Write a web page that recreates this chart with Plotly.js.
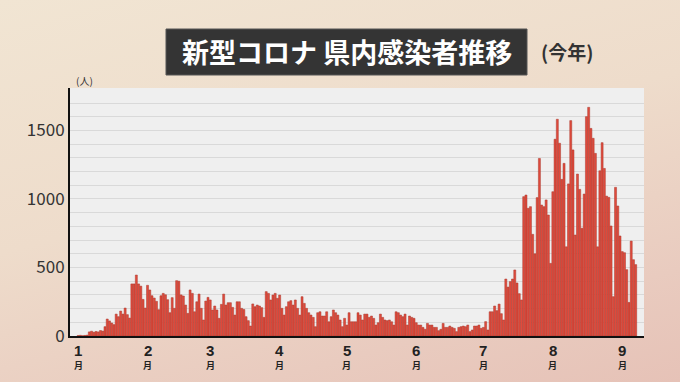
<!DOCTYPE html>
<html><head><meta charset="utf-8">
<script src="https://cdn.plot.ly/plotly-3.0.1.min.js"></script>
<style>
html,body{margin:0;padding:0;width:680px;height:382px;overflow:hidden;}
body{background:linear-gradient(165deg,#f1e5d3 0%,#eedccb 45%,#e9cbbf 80%,#e6c2b7 100%);}
#chart{width:680px;height:382px;}
</style></head>
<body><div id="chart"></div>
<script>
// daily new cases (人), 2021, by month
const jan=[3,5,2,4,6,30,35,28,33,30,40,36,68,124,110,95,83,160,141,182,160,204,156,131,380,380,445,380,364,267,204];
const feb=[370,336,294,277,253,192,294,311,301,265,170,280,202,404,400,300,292,226,165,336,311,177,250,306,202,117,255,282];
const mar=[263,190,219,190,129,231,306,226,243,243,209,153,250,250,202,194,141,112,73,234,214,226,219,207,136,324,311,263,299,311,275];
const apr=[299,202,153,214,250,258,226,263,202,153,287,238,202,170,153,136,68,170,177,146,146,177,104,141,190,170,153,117,68,129];
const may=[80,170,104,104,104,170,153,117,160,160,136,146,129,80,97,160,136,117,112,117,104,80,177,170,153,141,160,80,146,136,129];
const jun=[97,80,80,63,49,92,80,80,63,63,39,49,92,63,63,73,63,56,32,63,68,73,68,80,32,44,73,73,80,56];
const jul=[63,105,44,177,177,219,185,233,163,117,416,357,397,416,482,387,309,263,1017,1029,932,944,742,600,1010,1296,956,944,993,883,530];
const aug=[1053,1436,1582,1407,1143,1260,651,1110,1572,1358,737,1182,1070,786,1036,1601,1669,1515,1443,1333,651,1206,1411,1223,1021,1012,803,287,1085,949,730];
const sep=[616,608,484,245,693,557,521];
const monthTicks=['2021-01-01','2021-02-01','2021-03-01','2021-04-01','2021-05-01','2021-06-01','2021-07-01','2021-08-01','2021-09-01'];
const monthNums=['1','2','3','4','5','6','7','8','9'];
const yGrid=[0,100,200,300,400,500,600,700,800,900,1000,1100,1200,1300,1400,1500,1600,1700];
const yLabeled=[0,500,1000,1500];

const values=[].concat(jan,feb,mar,apr,may,jun,jul,aug,sep);
const start=new Date(Date.UTC(2021,0,1));
const dates=values.map((v,i)=>{const d=new Date(start.getTime()+i*86400000);return d.toISOString().slice(0,10);});

const FONT='"Noto Sans CJK JP","Noto Sans",sans-serif';
// plot area in pixels: x 70..644, y 88..336
const L=70,R=644,T=88,B=336;
const px=p=>(p-L)/(R-L), py=p=>(B-p)/(B-T);

const trace={type:'bar',x:dates,y:values,
  marker:{color:'#e14a3c',line:{color:'#a8382c',width:0.5}},hoverinfo:'x+y'};

const monthAnn=[];
monthTicks.forEach((t,i)=>{
  monthAnn.push({xref:'x',yref:'paper',x:t,y:py(350),text:'<b>'+monthNums[i]+'</b>',showarrow:false,
    font:{family:'"Liberation Sans",Arial,sans-serif',size:15,color:'#222'},
    xanchor:'center',yanchor:'middle',borderpad:0});
  monthAnn.push({xref:'x',yref:'paper',x:t,y:py(365.5),text:'<b>月</b>',showarrow:false,
    font:{family:FONT,size:9,color:'#222'},xanchor:'center',yanchor:'middle',borderpad:0});
});

const layout={
  width:680,height:382,
  paper_bgcolor:'rgba(0,0,0,0)',plot_bgcolor:'#efefef',
  margin:{l:L,r:680-R,t:T,b:382-B,pad:0},
  bargap:0.1,showlegend:false,
  font:{family:FONT,color:'#333'},
  xaxis:{type:'date',range:['2020-12-28 09:00','2021-09-10 17:00'],
    showticklabels:false,ticks:'',showgrid:false,
    showline:true,linecolor:'#111',linewidth:2,zeroline:false,fixedrange:true},
  yaxis:{range:[0,1810],tickvals:yGrid,
    ticktext:yGrid.map(v=>yLabeled.includes(v)?String(v):''),
    tickfont:{family:FONT,size:17,color:'#333'},ticks:'',
    showgrid:true,gridcolor:'#d9d9d9',gridwidth:1,
    showline:true,linecolor:'#111',linewidth:2,zeroline:false,fixedrange:true},
  shapes:[{type:'rect',xref:'paper',yref:'paper',x0:px(166),x1:px(527),y0:py(75),y1:py(29),
    fillcolor:'#343434',line:{color:'#555',width:1}}],
  annotations:monthAnn.concat([
    {xref:'paper',yref:'paper',x:px(346.5),y:py(52),text:'<b>新型コロナ 県内感染者推移</b>',showarrow:false,
     font:{family:FONT,size:27,color:'#ffffff'},xanchor:'center',yanchor:'middle'},
    {xref:'paper',yref:'paper',x:px(567),y:py(51),text:'<b>(今年)</b>',showarrow:false,
     font:{family:FONT,size:19,color:'#333'},xanchor:'center',yanchor:'middle'},
    {xref:'paper',yref:'paper',x:px(84),y:py(80),text:'(人)',showarrow:false,
     font:{family:FONT,size:10,color:'#333'},xanchor:'center',yanchor:'middle'}
  ])
};
Plotly.newPlot('chart',[trace],layout,{staticPlot:true,displayModeBar:false});
</script></body></html>
